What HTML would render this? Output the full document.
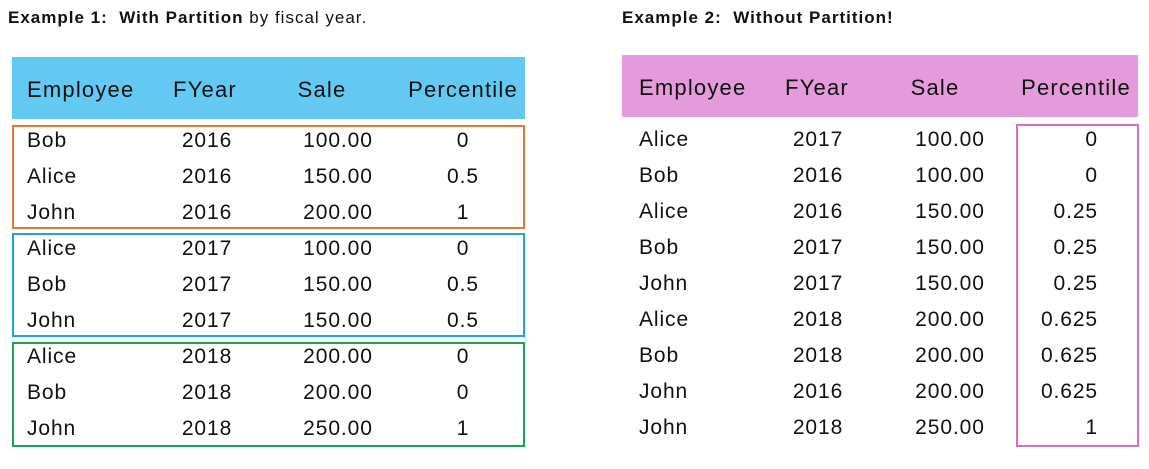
<!DOCTYPE html>
<html><head><meta charset="utf-8"><style>
body{margin:0;width:1149px;height:469px;background:#fff;position:relative;overflow:hidden;font-family:"Liberation Sans",sans-serif;color:#111}
.t{position:absolute;font-size:17px;top:8px;white-space:nowrap;letter-spacing:1px}
.hdr{position:absolute;height:62px}
.box{position:absolute;border:2px solid;box-sizing:border-box}
.c,.l,.r{position:absolute;font-size:21px;white-space:nowrap;letter-spacing:0.9px}
.c{transform:translate(-50%,-50%)}
.l{transform:translateY(-50%)}
.r{transform:translate(-100%,-50%)}
.h{font-size:22px;letter-spacing:1.2px}
</style></head><body>
<div class="t" style="left:8px"><b>Example 1:&nbsp; With Partition</b> by fiscal year.</div>
<div class="t" style="left:622px"><b>Example 2:&nbsp; Without Partition!</b></div>
<div class="hdr" style="left:12px;top:57px;width:513px;background:#63c9f2"></div>
<div class="hdr" style="left:622px;top:55px;width:516px;background:#e39bd9"></div>
<div class="box" style="left:12px;top:125px;width:513px;height:104px;border-color:#e8743b"></div>
<div class="box" style="left:12px;top:233px;width:513px;height:104px;border-color:#1aa7e0"></div>
<div class="box" style="left:12px;top:342px;width:513px;height:105px;border-color:#1aa350"></div>
<div class="box" style="left:1016px;top:124px;width:123px;height:323px;border-color:#d46fcc"></div>
<div id="root"></div>
<script>
const t1 = [["Bob","2016","100.00","0"],["Alice","2016","150.00","0.5"],["John","2016","200.00","1"],["Alice","2017","100.00","0"],["Bob","2017","150.00","0.5"],["John","2017","150.00","0.5"],["Alice","2018","200.00","0"],["Bob","2018","200.00","0"],["John","2018","250.00","1"]];
const t2 = [["Alice","2017","100.00","0"],["Bob","2016","100.00","0"],["Alice","2016","150.00","0.25"],["Bob","2017","150.00","0.25"],["John","2017","150.00","0.25"],["Alice","2018","200.00","0.625"],["Bob","2018","200.00","0.625"],["John","2016","200.00","0.625"],["John","2018","250.00","1"]];
const heads = ["Employee","FYear","Sale","Percentile"];
const root = document.getElementById('root');
function add(txt, x, y, cls, name){
  const d=document.createElement('div');
  d.className = cls;
  d.style.left = x+'px'; d.style.top = y+'px';
  d.textContent = txt;
  
  
  root.appendChild(d);
}
function table(rows, hx, xs, pctRight, hy, y0, pfx){
  heads.forEach((h,i)=>add(h, hx[i], hy, (i===0?'l h':'c h'), pfx+'-header-'+h.toLowerCase()));
  rows.forEach((r,ri)=>r.forEach((v,ci)=>{
    let cls = ci===0 ? 'l' : 'c';
    let x = xs[ci];
    if (ci===3 && pctRight) { cls='r'; x=pctRight; }
    add(v, x, y0+ri*36, cls, pfx+'-cell');
  }));
}
table(t1,[27,205,322,463],[27,207,338,463],0,90,141,'table-1');
table(t2,[639,817,935,1076],[639,818,950,1076],1098,88,140,'table-2');
</script>
</body></html>
